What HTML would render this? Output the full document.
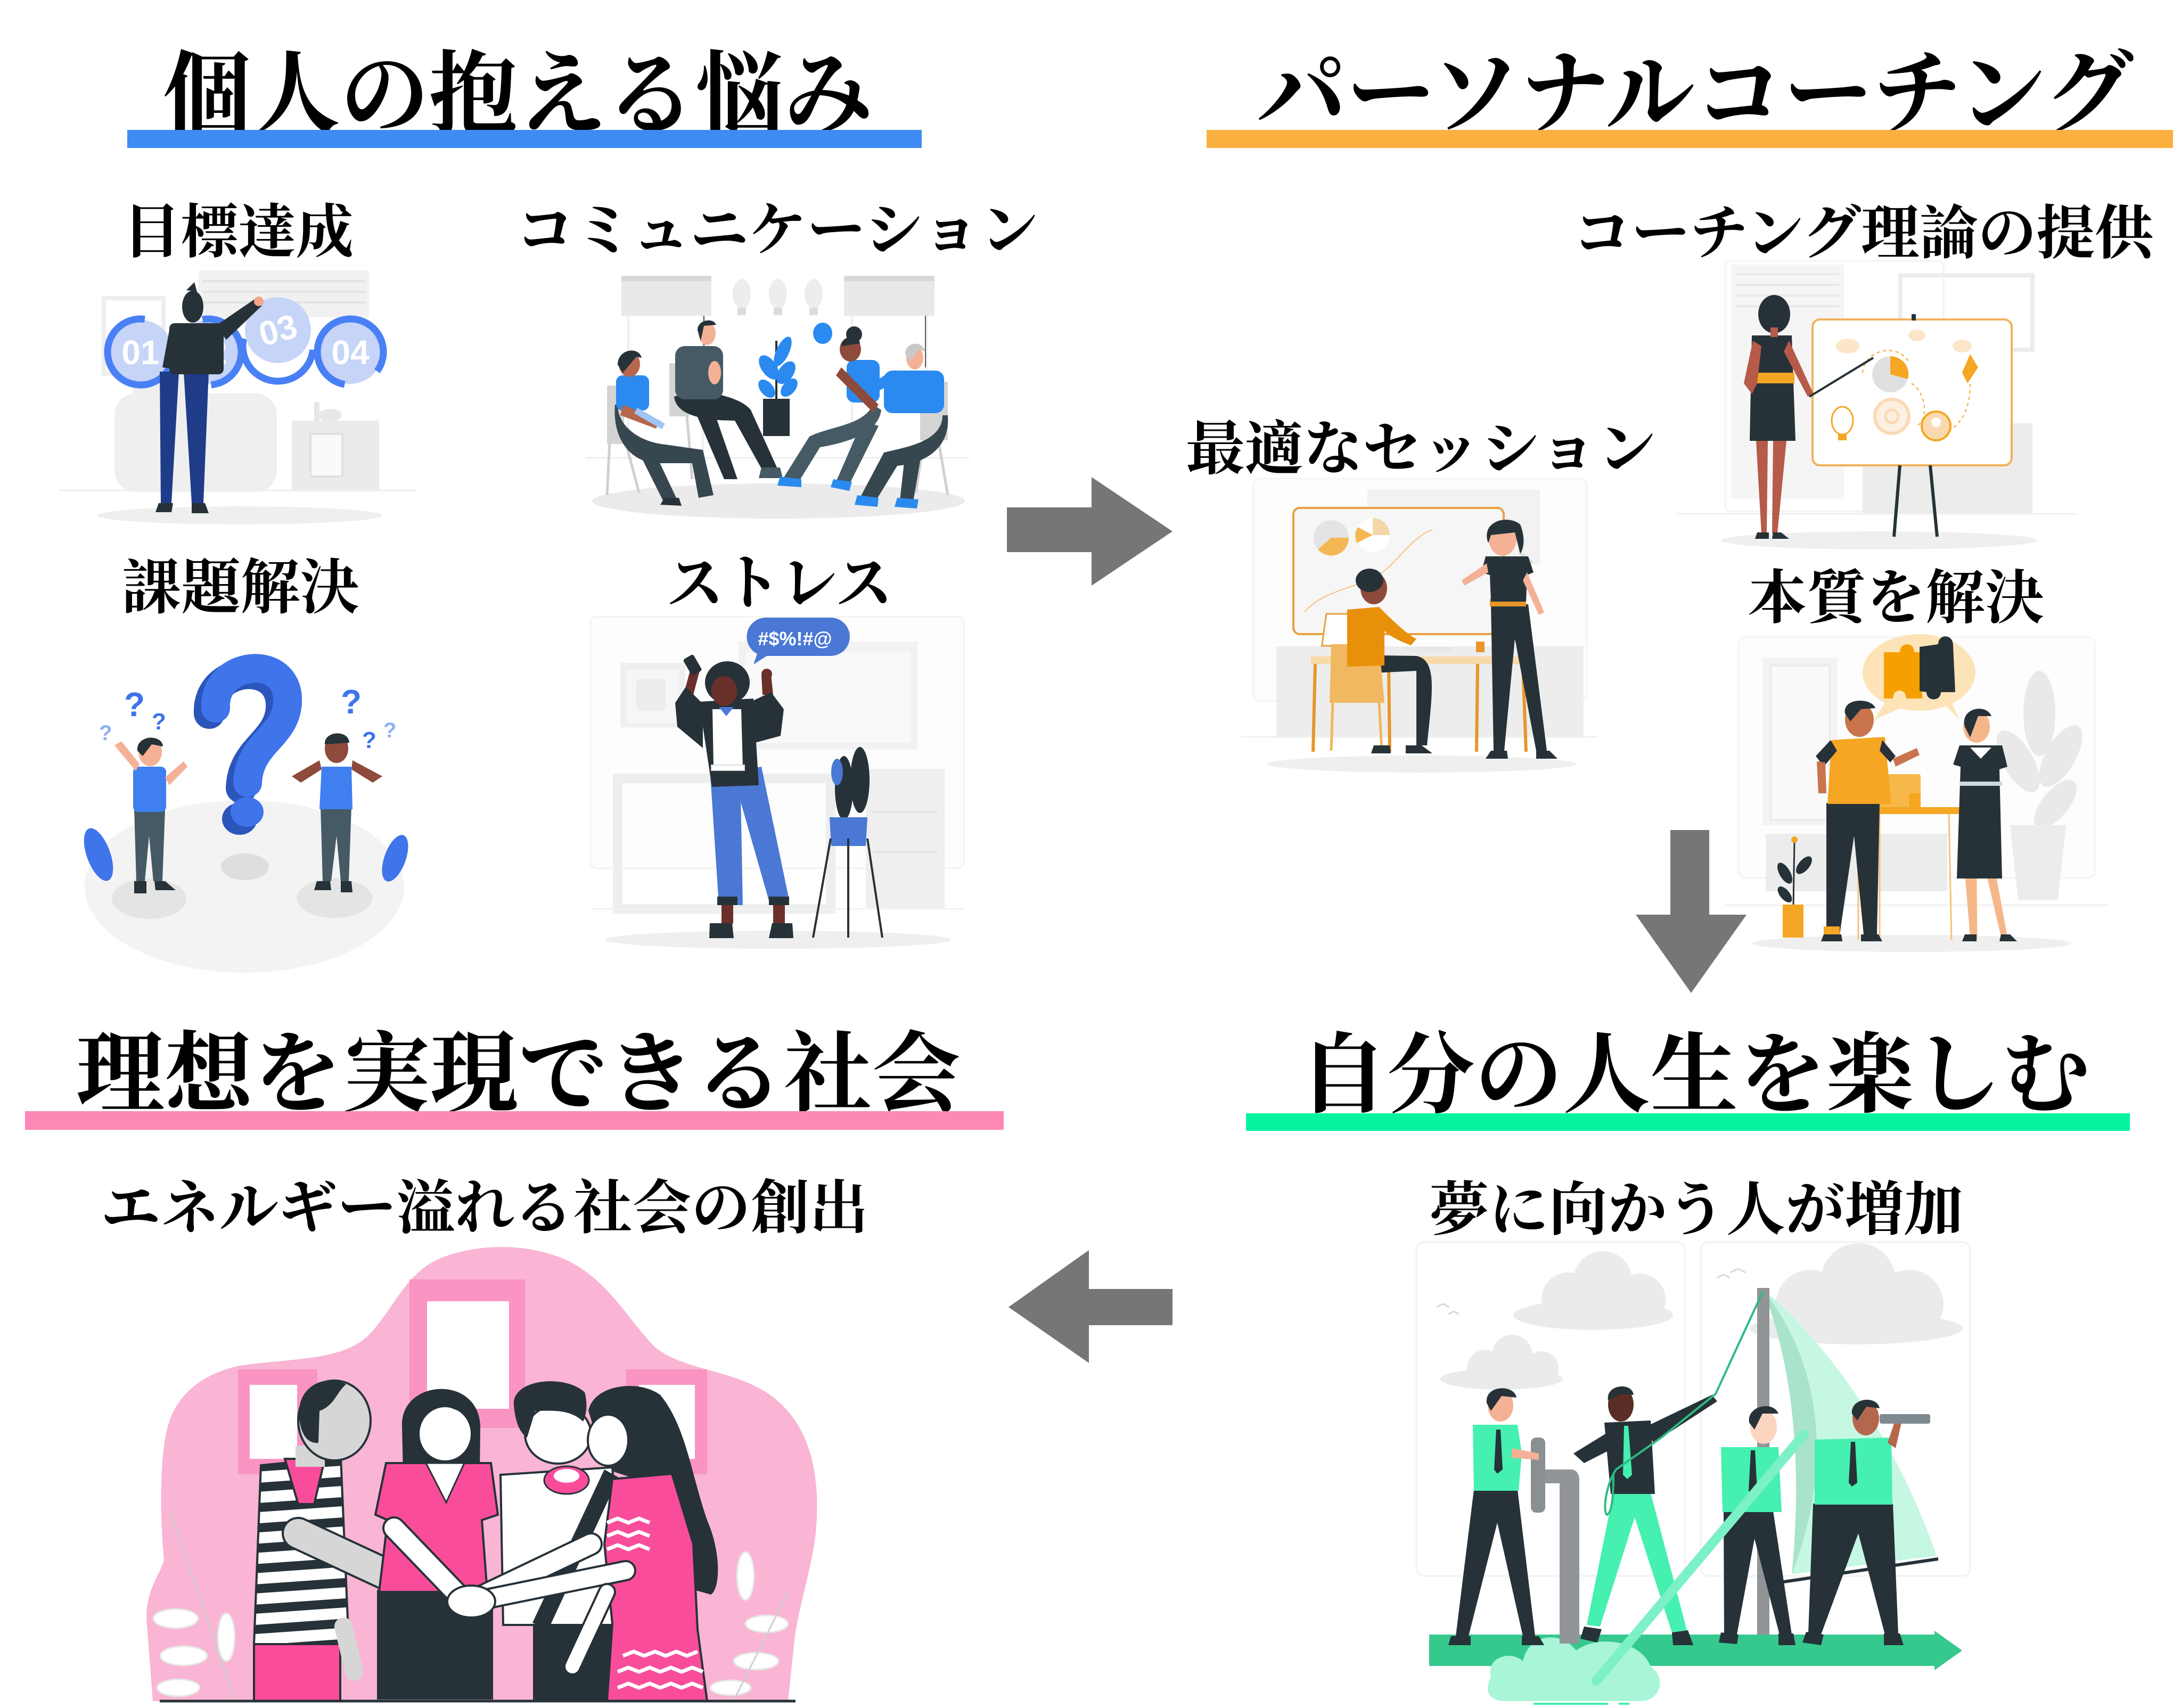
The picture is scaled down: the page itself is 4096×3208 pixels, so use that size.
<!DOCTYPE html>
<html><head><meta charset="utf-8">
<style>
html,body{margin:0;padding:0;background:#fff;}
svg{display:block;}
.t{font-family:"Liberation Serif","Noto Serif CJK SC","Noto Serif CJK JP",serif;font-weight:700;fill:#000;}
.s{font-family:"Liberation Sans",sans-serif;font-weight:700;}
</style></head><body>
<svg width="4096" height="3208" viewBox="0 0 4096 3208" xmlns="http://www.w3.org/2000/svg">
<defs>
<pattern id="stripe" width="40" height="38" patternUnits="userSpaceOnUse" patternTransform="rotate(-4)">
<rect width="40" height="38" fill="#fff"/><rect y="0" width="40" height="17" fill="#263238"/></pattern>
</defs>
<rect width="4096" height="3208" fill="#fff"/>

<!-- ===== TITLES & BARS ===== -->
<text class="t" x="306" y="238" font-size="172" textLength="1333" lengthAdjust="spacingAndGlyphs">個人の抱える悩み</text>
<rect x="239" y="244" width="1492" height="34" fill="#3e8cf3"/>
<text class="t" x="2361" y="236" font-size="172" textLength="1646" lengthAdjust="spacingAndGlyphs">パーソナルコーチング</text>
<rect x="2266" y="244" width="1815" height="34" fill="#fbb040"/>

<text class="t" x="231" y="474" font-size="110" textLength="433" lengthAdjust="spacingAndGlyphs">目標達成</text>
<text class="t" x="969" y="470" font-size="110" textLength="981" lengthAdjust="spacingAndGlyphs">コミュニケーション</text>
<text class="t" x="2954" y="476" font-size="110" textLength="1090" lengthAdjust="spacingAndGlyphs">コーチング理論の提供</text>
<text class="t" x="2227" y="881" font-size="110" textLength="883" lengthAdjust="spacingAndGlyphs">最適なセッション</text>
<text class="t" x="229" y="1142" font-size="112" textLength="446" lengthAdjust="spacingAndGlyphs">課題解決</text>
<text class="t" x="1252" y="1134" font-size="112" textLength="424" lengthAdjust="spacingAndGlyphs">ストレス</text>
<text class="t" x="3282" y="1161" font-size="110" textLength="557" lengthAdjust="spacingAndGlyphs">本質を解決</text>

<text class="t" x="143" y="2074" font-size="165" textLength="1661" lengthAdjust="spacingAndGlyphs">理想を実現できる社会</text>
<rect x="47" y="2087" width="1838" height="35" fill="#fb88b5"/>
<text class="t" x="2440" y="2076" font-size="165" textLength="1484" lengthAdjust="spacingAndGlyphs">自分の人生を楽しむ</text>
<rect x="2340" y="2091" width="1660" height="33" fill="#05f59e"/>

<text class="t" x="190" y="2307" font-size="110" textLength="1441" lengthAdjust="spacingAndGlyphs">エネルギー溢れる社会の創出</text>
<text class="t" x="2685" y="2310" font-size="110" textLength="1002" lengthAdjust="spacingAndGlyphs">夢に向かう人が増加</text>

<!-- ===== ARROWS ===== -->
<polygon points="1891,953 2050,953 2050,896 2202,998 2050,1100 2050,1037 1891,1037" fill="#767676"/>
<polygon points="3137,1559 3210,1559 3210,1718 3280,1718 3176,1865 3072,1718 3137,1718" fill="#767676"/>
<polygon points="2202,2421 2045,2421 2045,2348 1894,2455 2045,2560 2045,2489 2202,2489" fill="#767676"/>

<!-- ===== ILLUS 1: 目標達成 ===== -->
<g>
<rect x="373" y="508" width="320" height="88" fill="#f1f1f1"/>
<g stroke="#e3e3e3" stroke-width="4"><line x1="380" y1="528" x2="686" y2="528"/><line x1="380" y1="548" x2="686" y2="548"/><line x1="380" y1="568" x2="686" y2="568"/></g>
<rect x="195" y="560" width="112" height="142" fill="none" stroke="#eeeeee" stroke-width="8"/>
<rect x="250" y="700" width="120" height="80" rx="30" fill="#efefef"/>
<rect x="215" y="739" width="305" height="185" rx="40" fill="#efefef"/>
<rect x="548" y="790" width="164" height="133" fill="#ebebeb"/>
<rect x="583" y="815" width="60" height="80" fill="#fafafa" stroke="#e0e0e0" stroke-width="4"/>
<rect x="590" y="755" width="10" height="35" fill="#e6e6e6"/>
<ellipse cx="620" cy="780" rx="22" ry="12" fill="#e8e8e8"/>
<line x1="110" y1="921" x2="780" y2="921" stroke="#efefef" stroke-width="3"/>
<ellipse cx="450" cy="968" rx="268" ry="17" fill="#efefef"/>
<circle cx="264" cy="661" r="60" fill="#c6d4f8"/>
<circle cx="264" cy="661" r="62" fill="none" stroke="#4a80f5" stroke-width="13" stroke-dasharray="300 90"/>
<circle cx="391" cy="661" r="60" fill="#c6d4f8"/>
<circle cx="391" cy="661" r="62" fill="none" stroke="#4a80f5" stroke-width="13" stroke-dasharray="200 190" transform="rotate(-100 391 661)"/>
<circle cx="658" cy="661" r="60" fill="#c6d4f8"/>
<circle cx="658" cy="661" r="62" fill="none" stroke="#4a80f5" stroke-width="13" stroke-dasharray="320 70" transform="rotate(100 658 661)"/>
<circle cx="522" cy="650" r="66" fill="none" stroke="#4a80f5" stroke-width="13" stroke-dasharray="210 200" transform="rotate(10 522 650)"/>
<circle cx="522" cy="620" r="62" fill="#c6d4f8"/>
<text class="s" x="264" y="684" font-size="64" fill="#fff" text-anchor="middle">01</text>
<text class="s" x="391" y="684" font-size="64" fill="#fff" text-anchor="middle">02</text>
<text class="s" x="522" y="642" font-size="64" fill="#fff" text-anchor="middle" transform="rotate(-15 522 620)">03</text>
<text class="s" x="658" y="684" font-size="64" fill="#fff" text-anchor="middle">04</text>
<path d="M300 698 L336 698 L322 945 L302 945 Z" fill="#1f3c88"/>
<path d="M345 698 L392 698 L382 945 L360 945 Z" fill="#1f3c88"/>
<rect x="318" y="607" width="102" height="96" rx="10" fill="#263238"/>
<path d="M405 612 L478 562 L492 574 L425 638 Z" fill="#263238"/>
<circle cx="486" cy="566" r="9" fill="#f4a58a"/>
<path d="M318 620 L305 690 L318 692 L330 625 Z" fill="#263238"/>
<ellipse cx="362" cy="576" rx="20" ry="30" fill="#263238"/>
<path d="M350 545 L365 530 L370 548 Z" fill="#263238"/>
<path d="M298 945 L325 945 L322 962 L292 962 Z" fill="#263238"/>
<path d="M360 945 L385 945 L392 964 L360 964 Z" fill="#263238"/>
</g>

<!-- ===== ILLUS 2: コミュニケーション ===== -->
<g>
<rect x="1167" y="523" width="169" height="70" fill="#e9e9e9"/>
<rect x="1585" y="523" width="170" height="70" fill="#e9e9e9"/>
<rect x="1167" y="518" width="169" height="10" fill="#d8d8d8"/>
<rect x="1585" y="518" width="170" height="10" fill="#d8d8d8"/>
<g stroke="#f0f0f0" stroke-width="5"><line x1="1180" y1="593" x2="1180" y2="860"/><line x1="1320" y1="593" x2="1320" y2="860"/><line x1="1600" y1="593" x2="1600" y2="860"/><line x1="1740" y1="593" x2="1740" y2="860"/></g>
<g stroke="#555" stroke-width="2"><line x1="1322" y1="593" x2="1322" y2="650"/><line x1="1738" y1="593" x2="1738" y2="690"/></g>
<g fill="#ededed"><ellipse cx="1393" cy="552" rx="17" ry="28"/><ellipse cx="1461" cy="552" rx="17" ry="28"/><ellipse cx="1528" cy="552" rx="17" ry="28"/></g>
<g fill="#dcdcdc"><rect x="1385" y="578" width="16" height="14"/><rect x="1453" y="578" width="16" height="14"/><rect x="1520" y="578" width="16" height="14"/></g>
<line x1="1100" y1="860" x2="1820" y2="860" stroke="#eeeeee" stroke-width="3"/>
<ellipse cx="1462" cy="941" rx="350" ry="33" fill="#ebebeb"/>
<g fill="#d4d4d4"><rect x="1140" y="724" width="32" height="110"/><rect x="1257" y="682" width="37" height="100"/><rect x="1728" y="717" width="52" height="110"/></g>
<g stroke="#d0d0d0" stroke-width="5"><line x1="1145" y1="830" x2="1140" y2="930"/><line x1="1175" y1="830" x2="1200" y2="925"/><line x1="1762" y1="825" x2="1780" y2="930"/><line x1="1735" y1="825" x2="1720" y2="925"/><line x1="1290" y1="780" x2="1300" y2="900"/></g>
<rect x="1433" y="749" width="50" height="70" fill="#263238"/>
<line x1="1458" y1="640" x2="1458" y2="750" stroke="#263238" stroke-width="4"/>
<g fill="#2a8af0"><ellipse cx="1470" cy="660" rx="12" ry="30" transform="rotate(25 1470 660)"/><ellipse cx="1444" cy="690" rx="14" ry="26" transform="rotate(-35 1444 690)"/><ellipse cx="1476" cy="700" rx="14" ry="24" transform="rotate(35 1476 700)"/><ellipse cx="1440" cy="730" rx="12" ry="20" transform="rotate(-40 1440 730)"/><ellipse cx="1482" cy="728" rx="12" ry="20" transform="rotate(40 1482 728)"/></g>
<path d="M1160 760 C1160 800 1200 830 1250 835 L1320 845 L1340 930 L1312 935 L1300 870 L1230 870 C1180 865 1150 820 1155 760 Z" fill="#37474f"/>
<path d="M1230 850 L1270 935 L1245 940 L1205 860 Z" fill="#37474f"/>
<rect x="1157" y="705" width="62" height="66" rx="12" fill="#2a8af0"/>
<path d="M1170 760 L1240 790 L1232 805 L1165 780 Z" fill="#b5674d"/>
<rect x="1190" y="780" width="60" height="12" fill="#9ec6f5" transform="rotate(30 1220 786)"/>
<ellipse cx="1182" cy="684" rx="20" ry="24" fill="#b5674d"/>
<path d="M1160 685 C1160 655 1200 650 1205 672 L1195 670 L1170 700 Z" fill="#263238"/>
<path d="M1248 935 L1275 935 L1280 950 L1240 948 Z" fill="#263238"/>
<path d="M1266 745 C1270 780 1320 790 1380 790 L1430 880 L1460 880 L1410 770 C1390 745 1330 735 1300 735 Z" fill="#263238"/>
<path d="M1300 760 L1360 900 L1385 900 L1340 770 Z" fill="#263238"/>
<rect x="1268" y="650" width="90" height="100" rx="18" fill="#455a64"/>
<ellipse cx="1342" cy="700" rx="12" ry="22" fill="#f4b196"/>
<ellipse cx="1328" cy="626" rx="16" ry="22" fill="#f4b196"/>
<path d="M1310 620 C1310 600 1340 596 1345 610 L1322 612 L1316 640 Z" fill="#263238"/>
<path d="M1430 878 L1465 878 L1470 898 L1425 898 Z" fill="#455a64"/>
<path d="M1640 760 C1620 800 1560 800 1520 820 L1470 900 L1500 905 L1540 840 C1600 830 1650 810 1655 770 Z" fill="#455a64"/>
<path d="M1620 790 L1570 905 L1595 910 L1650 800 Z" fill="#455a64"/>
<rect x="1590" y="676" width="62" height="80" rx="14" fill="#2a8af0"/>
<path d="M1580 690 L1650 760 L1640 775 L1570 705 Z" fill="#8e4a3a"/>
<ellipse cx="1597" cy="656" rx="20" ry="23" fill="#8e4a3a"/>
<circle cx="1604" cy="628" r="15" fill="#263238"/>
<path d="M1580 650 C1580 630 1615 630 1615 645 L1595 648 Z" fill="#263238"/>
<ellipse cx="1545" cy="626" rx="18" ry="20" fill="#2a8af0"/>
<path d="M1465 895 L1505 900 L1505 915 L1460 912 Z" fill="#2a8af0"/>
<path d="M1565 900 L1600 905 L1595 922 L1560 915 Z" fill="#2a8af0"/>
<path d="M1770 780 C1770 830 1700 840 1660 850 L1615 935 L1645 940 L1685 875 C1740 870 1785 840 1780 780 Z" fill="#37474f"/>
<path d="M1700 850 L1690 940 L1715 942 L1730 855 Z" fill="#37474f"/>
<rect x="1660" y="696" width="113" height="80" rx="16" fill="#2a8af0"/>
<path d="M1668 700 L1625 730 L1632 744 L1680 718 Z" fill="#2a8af0"/>
<ellipse cx="1718" cy="672" rx="16" ry="22" fill="#f4b196"/>
<path d="M1700 665 C1700 640 1735 640 1737 660 L1725 656 L1710 680 Z" fill="#c9c9c9"/>
<path d="M1610 930 L1650 935 L1648 952 L1605 948 Z" fill="#2a8af0"/>
<path d="M1685 935 L1725 938 L1722 955 L1680 952 Z" fill="#2a8af0"/>
</g>

<!-- ===== ILLUS 3: 課題解決 ===== -->
<g>
<ellipse cx="459" cy="1665" rx="300" ry="162" fill="#f3f3f3"/>
<ellipse cx="460" cy="1628" rx="45" ry="25" fill="#dedede"/>
<ellipse cx="280" cy="1688" rx="70" ry="38" fill="#e4e4e4"/>
<ellipse cx="628" cy="1687" rx="71" ry="37" fill="#e4e4e4"/>
<g transform="translate(-12 10)">
<path d="M405 1330 C400 1240 545 1225 540 1320 C536 1385 468 1395 465 1470" fill="none" stroke="#2c55bb" stroke-width="58" stroke-linecap="round"/>
<ellipse cx="462" cy="1528" rx="33" ry="30" fill="#2c55bb"/>
</g>
<path d="M405 1330 C400 1240 545 1225 540 1320 C536 1385 468 1395 465 1470" fill="none" stroke="#3f74ea" stroke-width="54" stroke-linecap="round"/>
<ellipse cx="464" cy="1525" rx="31" ry="28" fill="#3f74ea"/>
<g class="s" fill="#3f74ea">
<text x="233" y="1345" font-size="64">?</text><text x="285" y="1370" font-size="44">?</text><text x="186" y="1390" font-size="40" fill="#8fb0f5">?</text>
<text x="640" y="1340" font-size="64">?</text><text x="680" y="1405" font-size="44">?</text><text x="720" y="1385" font-size="40" fill="#8fb0f5">?</text>
</g>
<path d="M252 1520 L310 1520 L305 1655 L288 1655 L280 1570 L272 1655 L256 1655 Z" fill="#455a64"/>
<rect x="250" y="1440" width="62" height="85" rx="10" fill="#3f7ff0"/>
<path d="M255 1448 L215 1400 L228 1392 L262 1435 Z" fill="#f4b196"/>
<path d="M310 1460 L345 1430 L352 1440 L318 1475 Z" fill="#f4b196"/>
<ellipse cx="282" cy="1412" rx="22" ry="27" fill="#f4b196"/>
<path d="M258 1410 C255 1380 305 1378 306 1402 L285 1398 L268 1420 Z" fill="#263238"/>
<path d="M252 1655 L275 1655 L275 1678 L252 1678 Z" fill="#263238"/><path d="M290 1655 L310 1655 L330 1672 L292 1672 Z" fill="#263238"/>
<path d="M602 1515 L660 1515 L655 1655 L640 1655 L632 1570 L622 1655 L606 1655 Z" fill="#455a64"/>
<path d="M604 1440 L660 1440 L662 1520 L600 1520 Z" fill="#3f7ff0"/>
<path d="M604 1445 L565 1470 L548 1458 L600 1428 Z" fill="#8e4a3a"/>
<path d="M660 1445 L700 1470 L718 1458 L662 1428 Z" fill="#8e4a3a"/>
<ellipse cx="632" cy="1406" rx="22" ry="27" fill="#8e4a3a"/>
<path d="M610 1398 C608 1372 655 1370 656 1395 Z" fill="#263238"/>
<path d="M595 1655 L620 1655 L622 1672 L590 1672 Z" fill="#263238"/><path d="M640 1655 L660 1655 L662 1676 L640 1676 Z" fill="#263238"/>
<g fill="#3f74ea"><ellipse cx="185" cy="1605" rx="22" ry="52" transform="rotate(-20 185 1605)"/><ellipse cx="742" cy="1612" rx="20" ry="46" transform="rotate(20 742 1612)"/></g>
</g>

<!-- ===== ILLUS 4: ストレス ===== -->
<g>
<rect x="1109" y="1158" width="701" height="473" rx="12" fill="#fdfdfd" stroke="#f3f3f3" stroke-width="3"/>
<rect x="1387" y="1205" width="336" height="203" fill="#f2f2f2"/>
<rect x="1400" y="1225" width="310" height="170" fill="#f9f9f9"/>
<rect x="1165" y="1245" width="122" height="121" fill="#efefef"/>
<rect x="1176" y="1258" width="100" height="100" fill="#f6f6f6"/>
<rect x="1195" y="1275" width="55" height="60" rx="8" fill="#ececec"/>
<rect x="1160" y="1462" width="400" height="245" fill="none" stroke="#eeeeee" stroke-width="18"/>
<rect x="1626" y="1444" width="148" height="263" fill="#efefef"/>
<g stroke="#e2e2e2" stroke-width="3"><line x1="1640" y1="1525" x2="1760" y2="1525"/><line x1="1640" y1="1600" x2="1760" y2="1600"/></g>
<line x1="1110" y1="1707" x2="1810" y2="1707" stroke="#f2f2f2" stroke-width="3"/>
<ellipse cx="1461" cy="1765" rx="325" ry="17" fill="#efefef"/>
<path d="M1440 1160 L1560 1160 A36 36 0 0 1 1560 1232 L1440 1232 L1415 1248 L1422 1228 A36 36 0 0 1 1440 1160 Z" fill="#4a78d4"/>
<text class="s" x="1493" y="1212" font-size="36" fill="#fff" text-anchor="middle">#$%!#@</text>
<path d="M1333 1440 L1390 1440 L1395 1700 L1350 1700 Z" fill="#4a78d4"/>
<path d="M1375 1450 L1430 1440 L1482 1690 L1445 1695 Z" fill="#4a78d4"/>
<rect x="1347" y="1684" width="38" height="16" fill="#263238"/>
<rect x="1444" y="1684" width="38" height="16" fill="#263238"/>
<rect x="1355" y="1700" width="22" height="35" fill="#6b2f2a"/>
<rect x="1452" y="1700" width="22" height="35" fill="#6b2f2a"/>
<path d="M1333 1734 L1375 1734 L1378 1762 L1332 1762 Z" fill="#263238"/>
<path d="M1450 1734 L1488 1734 L1490 1762 L1444 1762 L1450 1734 Z" fill="#263238"/>
<path d="M1285 1300 L1298 1252 L1315 1256 L1302 1305 Z" fill="#6b2f2a"/>
<path d="M1432 1305 L1430 1268 L1448 1266 L1452 1305 Z" fill="#6b2f2a"/>
<path d="M1313 1318 L1415 1312 L1425 1475 L1337 1478 Z" fill="#263238"/>
<path d="M1320 1322 L1288 1290 L1268 1320 L1272 1365 L1320 1405 Z" fill="#263238"/>
<path d="M1410 1318 L1448 1300 L1472 1332 L1466 1382 L1418 1395 Z" fill="#263238"/>
<path d="M1338 1332 L1392 1332 L1395 1440 L1340 1440 Z" fill="#fff"/>
<path d="M1350 1328 L1378 1328 L1364 1345 Z" fill="#4a78d4"/>
<rect x="1336" y="1437" width="62" height="10" fill="#fff" stroke="#ddd" stroke-width="2"/>
<rect x="1290" y="1232" width="22" height="35" rx="4" fill="#263238" transform="rotate(-30 1300 1250)"/>
<circle cx="1440" cy="1266" r="10" fill="#6b2f2a"/>
<ellipse cx="1366" cy="1282" rx="42" ry="40" fill="#263238"/>
<ellipse cx="1360" cy="1298" rx="24" ry="28" fill="#6b2f2a"/>
<g fill="#263238"><ellipse cx="1585" cy="1480" rx="17" ry="60"/><ellipse cx="1615" cy="1465" rx="18" ry="62"/></g>
<ellipse cx="1572" cy="1450" rx="11" ry="25" fill="#4a78d4"/>
<path d="M1558 1535 L1629 1535 L1626 1589 L1561 1589 Z" fill="#4a78d4"/>
<g stroke="#263238" stroke-width="4"><line x1="1560" y1="1575" x2="1527" y2="1761"/><line x1="1629" y1="1575" x2="1657" y2="1761"/><line x1="1593" y1="1575" x2="1593" y2="1761"/></g>
</g>

<!-- ===== ILLUS 5: コーチング理論の提供 ===== -->
<g>
<rect x="3240" y="490" width="410" height="470" rx="10" fill="none" stroke="#f5f5f5" stroke-width="4"/>
<rect x="3251" y="497" width="212" height="440" fill="#f5f5f5"/>
<g stroke="#e9e9e9" stroke-width="4"><line x1="3260" y1="515" x2="3455" y2="515"/><line x1="3260" y1="535" x2="3455" y2="535"/><line x1="3260" y1="555" x2="3455" y2="555"/><line x1="3260" y1="575" x2="3455" y2="575"/></g>
<rect x="3569" y="517" width="248" height="140" fill="none" stroke="#ececec" stroke-width="8"/>
<rect x="3498" y="795" width="319" height="170" fill="#ececec"/>
<line x1="3150" y1="965" x2="3900" y2="965" stroke="#f0f0f0" stroke-width="3"/>
<ellipse cx="3530" cy="1015" rx="297" ry="17" fill="#efefef"/>
<rect x="3404" y="600" width="374" height="274" rx="14" fill="#fff" stroke="#f2b25a" stroke-width="4"/>
<g fill="#fde5c8"><ellipse cx="3470" cy="650" rx="22" ry="14"/><ellipse cx="3600" cy="630" rx="16" ry="11"/><ellipse cx="3685" cy="650" rx="18" ry="12"/></g>
<path d="M3498 700 C3500 660 3560 640 3585 680" fill="none" stroke="#f5a623" stroke-width="2" stroke-dasharray="6 6"/>
<path d="M3590 720 C3620 740 3620 790 3600 800" fill="none" stroke="#f5a623" stroke-width="2" stroke-dasharray="6 6"/>
<path d="M3660 810 C3690 790 3700 760 3700 720" fill="none" stroke="#f5a623" stroke-width="2" stroke-dasharray="6 6"/>
<circle cx="3550" cy="703" r="34" fill="#e0e0e0"/>
<path d="M3550 703 L3550 669 A34 34 0 0 1 3583 712 Z" fill="#f5a623"/>
<circle cx="3553" cy="782" r="32" fill="#fdf0e2" stroke="#fbd9b5" stroke-width="6"/>
<circle cx="3553" cy="782" r="12" fill="none" stroke="#fbd9b5" stroke-width="5"/>
<ellipse cx="3460" cy="790" rx="20" ry="26" fill="none" stroke="#f5a623" stroke-width="3"/>
<rect x="3452" y="815" width="16" height="12" fill="#f5a623"/>
<circle cx="3636" cy="800" r="27" fill="#fbd9b0" stroke="#f5a623" stroke-width="4"/>
<circle cx="3636" cy="793" r="9" fill="#fff"/>
<path d="M3700 665 L3715 690 L3695 720 L3685 700 Z" fill="#f5a623"/>
<g stroke="#263238" stroke-width="6"><line x1="3568" y1="874" x2="3557" y2="1008"/><line x1="3625" y1="874" x2="3638" y2="1008"/></g>
<rect x="3590" y="590" width="8" height="12" fill="#263238"/>
<path d="M3298 828 L3320 828 L3318 1002 L3308 1002 Z" fill="#b65a4a"/>
<path d="M3330 828 L3355 828 L3338 1002 L3328 1002 Z" fill="#b65a4a"/>
<path d="M3290 630 L3365 630 L3372 828 L3286 828 Z" fill="#263238"/>
<rect x="3288" y="700" width="82" height="20" fill="#f5a623"/>
<path d="M3292 640 L3275 720 L3290 740 L3300 720 L3308 650 Z" fill="#b65a4a"/>
<path d="M3360 640 L3405 738 L3395 745 L3350 660 Z" fill="#b65a4a"/>
<line x1="3398" y1="745" x2="3518" y2="672" stroke="#263238" stroke-width="4"/>
<ellipse cx="3332" cy="590" rx="30" ry="36" fill="#263238"/>
<rect x="3325" y="615" width="14" height="18" fill="#b65a4a"/>
<path d="M3300 1000 L3322 1000 L3322 1012 L3296 1012 Z" fill="#263238"/>
<path d="M3330 1000 L3345 1000 L3360 1012 L3328 1012 Z" fill="#263238"/>
</g>

<!-- ===== ILLUS 6: 最適なセッション ===== -->
<g>
<rect x="2354" y="899" width="626" height="418" rx="12" fill="#fdfdfd" stroke="#f4f4f4" stroke-width="3"/>
<rect x="2568" y="919" width="324" height="141" fill="#f2f2f2"/>
<rect x="2397" y="1214" width="577" height="170" fill="#ededed"/>
<line x1="2330" y1="1384" x2="3000" y2="1384" stroke="#f0f0f0" stroke-width="3"/>
<ellipse cx="2670" cy="1435" rx="290" ry="16" fill="#efefef"/>
<rect x="2429" y="954" width="395" height="237" rx="12" fill="#f6f6f6" stroke="#e8a040" stroke-width="4"/>
<circle cx="2500" cy="1010" r="33" fill="#e4e4e4"/>
<path d="M2500 1010 L2533 1010 A33 33 0 0 1 2475 1032 Z" fill="#f5b754"/>
<circle cx="2578" cy="1005" r="32" fill="#fff"/>
<path d="M2578 1005 L2578 973 A32 32 0 0 1 2610 1005 Z" fill="#f3d7a8"/>
<path d="M2578 1005 L2548 1020 A32 32 0 0 1 2550 990 Z" fill="#f5b754"/>
<path d="M2450 1150 C2480 1110 2560 1100 2590 1080 C2630 1050 2650 1010 2690 995" fill="none" stroke="#f5c27a" stroke-width="2"/>
<path d="M2850 1030 L2880 1055 L2865 1070 Z" fill="#e0e0e0"/>
<rect x="2462" y="1233" width="406" height="14" fill="#f8d9a8"/>
<g stroke="#e8962a" stroke-width="6"><line x1="2470" y1="1247" x2="2466" y2="1412"/><line x1="2608" y1="1247" x2="2610" y2="1412"/><line x1="2775" y1="1247" x2="2773" y2="1412"/><line x1="2860" y1="1247" x2="2866" y2="1412"/></g>
<rect x="2653" y="1153" width="75" height="60" fill="#fff" stroke="#e8a040" stroke-width="3" transform="skewX(-8)"/>
<rect x="2635" y="1215" width="90" height="8" fill="#e8e8e8"/>
<rect x="2772" y="1205" width="16" height="20" fill="#e8962a"/>
<path d="M2530 1230 L2660 1232 C2700 1240 2690 1300 2680 1400 L2660 1400 L2660 1260 L2560 1265 Z" fill="#263238"/>
<path d="M2500 1210 L2590 1210 L2600 1320 L2497 1320 Z" fill="#f0b860"/>
<g stroke="#f0b860" stroke-width="5"><line x1="2503" y1="1320" x2="2500" y2="1410"/><line x1="2590" y1="1320" x2="2595" y2="1410"/></g>
<path d="M2530 1145 L2590 1140 C2610 1160 2640 1190 2660 1200 L2650 1212 C2630 1205 2610 1195 2600 1185 L2600 1250 L2530 1252 Z" fill="#e8900a"/>
<ellipse cx="2580" cy="1105" rx="25" ry="30" fill="#8e4a3a"/>
<ellipse cx="2572" cy="1090" rx="26" ry="22" fill="#263238"/>
<path d="M2640 1400 L2670 1400 L2690 1415 L2640 1415 Z" fill="#263238"/>
<path d="M2580 1400 L2610 1400 L2612 1415 L2575 1415 Z" fill="#263238"/>
<path d="M2800 1135 L2870 1135 L2905 1410 L2885 1410 L2845 1200 L2825 1410 L2805 1410 Z" fill="#263238"/>
<rect x="2798" y="1125" width="68" height="14" fill="#e8962a"/>
<path d="M2790 1045 L2870 1045 L2880 1075 L2868 1080 L2866 1130 L2800 1130 L2798 1080 L2782 1075 Z" fill="#263238"/>
<path d="M2795 1075 L2750 1100 L2745 1090 L2792 1058 Z" fill="#f4b196"/>
<path d="M2868 1075 L2900 1150 L2890 1155 L2860 1090 Z" fill="#f4b196"/>
<ellipse cx="2822" cy="1012" rx="26" ry="32" fill="#f4b196"/>
<path d="M2795 1020 C2780 980 2830 965 2855 985 C2865 1010 2862 1030 2855 1040 L2845 1000 L2800 1005 Z" fill="#263238"/>
<path d="M2800 1410 L2830 1410 L2832 1425 L2790 1425 Z" fill="#263238"/>
<path d="M2885 1410 L2910 1410 L2925 1425 L2885 1425 Z" fill="#263238"/>
</g>

<!-- ===== ILLUS 7: 本質を解決 ===== -->
<g>
<rect x="3265" y="1197" width="669" height="452" rx="12" fill="#fdfdfd" stroke="#f4f4f4" stroke-width="3"/>
<rect x="3310" y="1235" width="141" height="315" fill="#f3f3f3"/>
<rect x="3326" y="1250" width="110" height="290" fill="#fafafa" stroke="#ececec" stroke-width="4"/>
<rect x="3316" y="1566" width="341" height="108" fill="#ececec"/>
<g fill="#e9e9e9"><ellipse cx="3830" cy="1340" rx="30" ry="80"/><ellipse cx="3870" cy="1420" rx="28" ry="65" transform="rotate(30 3870 1420)"/><ellipse cx="3790" cy="1430" rx="28" ry="65" transform="rotate(-30 3790 1430)"/><ellipse cx="3860" cy="1510" rx="25" ry="55" transform="rotate(40 3860 1510)"/></g>
<path d="M3775 1550 L3880 1550 L3865 1690 L3790 1690 Z" fill="#ececec"/>
<line x1="3240" y1="1700" x2="3960" y2="1700" stroke="#f0f0f0" stroke-width="3"/>
<ellipse cx="3590" cy="1772" rx="300" ry="16" fill="#efefef"/>
<ellipse cx="3604" cy="1263" rx="106" ry="72" fill="#fde4b8"/>
<path d="M3540 1320 L3520 1352 L3570 1330 Z" fill="#fde4b8"/>
<path d="M3650 1322 L3680 1352 L3665 1318 Z" fill="#fde4b8"/>
<path d="M3538 1225 L3568 1225 C3568 1205 3595 1205 3595 1225 L3610 1225 L3610 1312 L3580 1312 C3580 1292 3555 1292 3555 1312 L3538 1312 Z" fill="#f5a000"/>
<path d="M3605 1215 L3640 1210 C3640 1190 3668 1190 3668 1212 L3672 1300 L3645 1300 C3645 1318 3618 1318 3618 1300 L3605 1298 Z" fill="#263238"/>
<rect x="3475" y="1516" width="247" height="13" fill="#f5a623"/>
<g stroke="#f5c27a" stroke-width="3"><line x1="3490" y1="1529" x2="3490" y2="1765"/><line x1="3530" y1="1529" x2="3530" y2="1765"/><line x1="3660" y1="1529" x2="3665" y2="1765"/><line x1="3710" y1="1529" x2="3712" y2="1765"/></g>
<rect x="3517" y="1454" width="90" height="62" rx="4" fill="#f7b84a"/>
<rect x="3585" y="1490" width="22" height="26" fill="#f5a623"/>
<path d="M3430 1508 L3530 1508 L3525 1755 L3500 1755 L3482 1570 L3455 1755 L3430 1755 Z" fill="#263238"/>
<path d="M3440 1390 L3540 1384 L3552 1510 L3432 1510 Z" fill="#f5a623"/>
<path d="M3438 1390 L3410 1420 L3425 1440 L3450 1410 Z" fill="#263238"/>
<path d="M3535 1390 L3560 1420 L3550 1432 L3530 1410 Z" fill="#263238"/>
<path d="M3555 1425 L3600 1405 L3605 1418 L3560 1440 Z" fill="#c9744c"/>
<path d="M3412 1430 L3415 1490 L3430 1490 L3428 1432 Z" fill="#c9744c"/>
<ellipse cx="3492" cy="1352" rx="27" ry="32" fill="#c9744c"/>
<path d="M3465 1340 C3460 1310 3515 1310 3522 1330 L3495 1332 L3475 1355 Z" fill="#263238"/>
<rect x="3425" y="1740" width="30" height="22" fill="#f5a623"/>
<path d="M3425 1755 L3458 1755 L3460 1768 L3420 1768 Z" fill="#263238"/>
<path d="M3495 1755 L3528 1755 L3535 1768 L3495 1768 Z" fill="#263238"/>
<path d="M3690 1640 L3710 1640 L3712 1760 L3700 1760 Z" fill="#f5b78a"/>
<path d="M3730 1640 L3748 1640 L3770 1760 L3758 1760 Z" fill="#f5b78a"/>
<path d="M3680 1400 L3760 1400 L3770 1440 L3755 1445 L3760 1650 L3675 1650 L3682 1440 L3668 1436 Z" fill="#263238"/>
<rect x="3680" y="1468" width="80" height="8" fill="#cfd8dc"/>
<path d="M3700 1404 L3740 1404 L3720 1425 Z" fill="#fff"/>
<ellipse cx="3712" cy="1365" rx="25" ry="30" fill="#f5b78a"/>
<path d="M3690 1365 C3680 1330 3730 1320 3740 1345 L3715 1345 L3700 1385 Z" fill="#263238"/>
<path d="M3690 1755 L3712 1755 L3712 1768 L3685 1768 Z" fill="#263238"/>
<path d="M3758 1755 L3775 1755 L3788 1768 L3755 1768 Z" fill="#263238"/>
<line x1="3368" y1="1700" x2="3370" y2="1580" stroke="#263238" stroke-width="3"/>
<circle cx="3370" cy="1577" r="6" fill="#f5a623"/>
<g fill="#263238"><ellipse cx="3352" cy="1640" rx="10" ry="22" transform="rotate(-30 3352 1640)"/><ellipse cx="3388" cy="1625" rx="10" ry="20" transform="rotate(40 3388 1625)"/><ellipse cx="3352" cy="1680" rx="9" ry="18" transform="rotate(-40 3352 1680)"/></g>
<rect x="3348" y="1699" width="39" height="62" fill="#f5a623"/>
</g>

<!-- ===== ILLUS 8: pink society ===== -->
<g>
<path d="M287 3195 L276 3053 C270 2990 300 2960 308 2930 C300 2850 300 2730 315 2680 C330 2620 380 2580 450 2565 C560 2550 640 2555 690 2510 C740 2460 760 2390 830 2362 C900 2335 990 2335 1060 2365 C1140 2400 1180 2480 1230 2530 C1290 2580 1400 2570 1470 2640 C1530 2700 1540 2790 1532 2880 C1522 2960 1495 3030 1490 3100 L1480 3195 Z" fill="#f9b5d3"/>
<rect x="769" y="2403" width="217" height="279" fill="#f994c3"/>
<rect x="802" y="2444" width="154" height="202" fill="#fff"/>
<rect x="447" y="2572" width="149" height="197" fill="#f994c3"/>
<rect x="469" y="2601" width="89" height="139" fill="#fff"/>
<rect x="1176" y="2572" width="152" height="197" fill="#f994c3"/>
<rect x="1200" y="2601" width="105" height="139" fill="#fff"/>
<g fill="#fff" stroke="#e6e6e6" stroke-width="3">
<ellipse cx="330" cy="3040" rx="42" ry="18"/><ellipse cx="345" cy="3110" rx="44" ry="18"/><ellipse cx="335" cy="3170" rx="40" ry="16"/><ellipse cx="425" cy="3075" rx="16" ry="45"/>
<ellipse cx="1400" cy="2960" rx="16" ry="45"/><ellipse cx="1440" cy="3050" rx="40" ry="16"/><ellipse cx="1420" cy="3120" rx="42" ry="16"/><ellipse cx="1372" cy="3170" rx="38" ry="14"/>
</g>
<g stroke="#cfcfcf" stroke-width="3" fill="none"><line x1="320" y1="2840" x2="440" y2="3190"/><line x1="1480" y1="2990" x2="1380" y2="3190"/></g>
<path d="M1105 2650 C1115 2600 1200 2590 1240 2620 C1290 2680 1300 2780 1330 2860 C1355 2920 1352 2985 1335 2995 L1300 2985 L1262 2800 L1140 2760 Z" fill="#263238"/>
<path d="M755 2680 C750 2590 900 2580 902 2680 L900 2850 L760 2900 Z" fill="#263238"/>
<!-- person 1 -->
<path d="M477 3085 L639 3085 L639 3195 L477 3195 Z" fill="#f94d9b" stroke="#263238" stroke-width="4"/>
<path d="M490 2752 L640 2738 L655 3088 L477 3088 Z" fill="url(#stripe)" stroke="#263238" stroke-width="4"/>
<path d="M535 2740 L610 2740 L590 2825 L560 2825 Z" fill="#f94d9b" stroke="#263238" stroke-width="4"/>
<rect x="555" y="2715" width="55" height="40" fill="#d6d6d6"/>
<path d="M560 2880 L850 3015" stroke="#263238" stroke-width="62" stroke-linecap="round"/>
<path d="M560 2880 L850 3015" stroke="#d6d6d6" stroke-width="54" stroke-linecap="round"/>
<path d="M645 3055 L665 3140" stroke="#d6d6d6" stroke-width="34" stroke-linecap="round"/>
<ellipse cx="628" cy="2668" rx="68" ry="75" fill="#d6d6d6" stroke="#263238" stroke-width="4"/>
<path d="M562 2665 C555 2600 615 2580 650 2600 C632 2615 628 2640 600 2650 L598 2710 C575 2712 565 2690 562 2665 Z" fill="#263238"/>
<!-- person 2 -->
<ellipse cx="836" cy="2693" rx="50" ry="52" fill="#fff" stroke="#263238" stroke-width="4"/>
<path d="M790 2655 C810 2615 870 2610 888 2660 L835 2640 Z" fill="#263238"/>
<rect x="708" y="2986" width="218" height="206" fill="#263238"/>
<path d="M725 2748 L922 2748 L935 2845 L905 2855 L915 2990 L712 2990 L728 2855 L705 2845 Z" fill="#f94d9b" stroke="#263238" stroke-width="4"/>
<path d="M800 2748 L872 2748 L838 2822 Z" fill="#fff" stroke="#263238" stroke-width="3"/>
<path d="M740 2870 L865 3000" stroke="#263238" stroke-width="44" stroke-linecap="round"/>
<path d="M740 2870 L865 3000" stroke="#fff" stroke-width="36" stroke-linecap="round"/>
<!-- person 3 -->
<rect x="1001" y="3048" width="164" height="147" fill="#263238"/>
<path d="M940 2770 L1150 2756 L1170 3052 L945 3052 Z" fill="#fff" stroke="#263238" stroke-width="4"/>
<path d="M1135 2760 L1162 2775 L1030 3060 L1000 3048 Z" fill="#263238"/>
<ellipse cx="1064" cy="2780" rx="42" ry="26" fill="#f94d9b" stroke="#263238" stroke-width="3"/>
<ellipse cx="1064" cy="2772" rx="24" ry="13" fill="#fff"/>
<ellipse cx="1048" cy="2694" rx="62" ry="55" fill="#fff" stroke="#263238" stroke-width="4"/>
<path d="M965 2640 C960 2590 1060 2580 1098 2615 C1105 2640 1100 2660 1095 2670 C1070 2645 1030 2650 1005 2650 L990 2700 C975 2690 968 2670 965 2640 Z" fill="#263238"/>
<path d="M1110 2900 L890 3005" stroke="#263238" stroke-width="44" stroke-linecap="round"/>
<path d="M1110 2900 L890 3005" stroke="#fff" stroke-width="36" stroke-linecap="round"/>
<!-- person 4 -->
<path d="M1150 2778 L1262 2768 L1302 2900 L1310 3060 L1328 3195 L1140 3195 L1150 3050 L1135 2900 Z" fill="#f94d9b" stroke="#263238" stroke-width="4"/>
<g stroke="#fff" stroke-width="7" fill="none">
<path d="M1140 2860 l20 -8 l20 8 l20 -8 l20 8"/><path d="M1140 2885 l20 -8 l20 8 l20 -8 l20 8"/><path d="M1140 2910 l20 -8 l20 8 l20 -8 l20 8"/>
<path d="M1170 3110 l20 -8 l20 8 l20 -8 l20 8 l20 -8 l20 8 l20 -8"/><path d="M1160 3140 l20 -8 l20 8 l20 -8 l20 8 l20 -8 l20 8 l20 -8 l20 8"/><path d="M1160 3170 l20 -8 l20 8 l20 -8 l20 8 l20 -8 l20 8 l20 -8 l20 8"/>
</g>
<path d="M1175 2950 L905 3005" stroke="#263238" stroke-width="40" stroke-linecap="round"/>
<path d="M1175 2950 L905 3005" stroke="#fff" stroke-width="32" stroke-linecap="round"/>
<path d="M1140 2990 L1075 3130" stroke="#263238" stroke-width="34" stroke-linecap="round"/>
<path d="M1140 2990 L1075 3130" stroke="#fff" stroke-width="26" stroke-linecap="round"/>
<ellipse cx="1142" cy="2705" rx="38" ry="48" fill="#fff" stroke="#263238" stroke-width="4"/>
<path d="M1115 2660 C1140 2610 1220 2620 1230 2670 L1190 2670 L1160 2655 Z" fill="#263238"/>
<ellipse cx="885" cy="3008" rx="45" ry="30" fill="#fff" stroke="#263238" stroke-width="4"/>
<line x1="300" y1="3195" x2="1494" y2="3195" stroke="#263238" stroke-width="5"/>
</g>

<!-- ===== ILLUS 9: green sailing ===== -->
<g>
<rect x="2660" y="2333" width="504" height="627" rx="14" fill="none" stroke="#f2f2f2" stroke-width="3"/>
<rect x="3194" y="2333" width="506" height="627" rx="14" fill="none" stroke="#f2f2f2" stroke-width="3"/>
<g fill="#ebebeb">
<ellipse cx="2992" cy="2470" rx="150" ry="28"/><circle cx="2945" cy="2440" r="50"/><circle cx="3010" cy="2405" r="55"/><circle cx="3080" cy="2440" r="48"/>
<ellipse cx="2820" cy="2590" rx="115" ry="20"/><circle cx="2790" cy="2570" r="35"/><circle cx="2840" cy="2545" r="38"/><circle cx="2895" cy="2570" r="32"/>
<ellipse cx="3486" cy="2495" rx="200" ry="30"/><circle cx="3400" cy="2450" r="65"/><circle cx="3490" cy="2405" r="70"/><circle cx="3585" cy="2450" r="65"/>
</g>
<g stroke="#d8d8d8" stroke-width="3" fill="none"><path d="M2698 2455 l12 -6 l12 6"/><path d="M2720 2468 l10 -5 l10 5"/><path d="M3225 2400 l12 -6 l12 6"/><path d="M3250 2390 l14 -7 l14 7"/></g>
<path d="M3311 2422 C3430 2520 3560 2700 3637 2922 L3365 2957 C3400 2800 3420 2600 3311 2422 Z" fill="#c6f7e3"/>
<path d="M3311 2422 C3420 2560 3445 2750 3365 2957 C3380 2800 3380 2600 3311 2422 Z" fill="#a9e3cb"/>
<rect x="3300" y="2419" width="23" height="668" fill="#919598"/>
<line x1="3323" y1="2975" x2="3640" y2="2928" stroke="#263238" stroke-width="6"/>
<path d="M2684 3070 L3633 3070 L3633 3063 L3685 3100 L3633 3137 L3633 3129 L2684 3129 Z" fill="#35c98e"/>
<path d="M2800 3150 C2790 3110 2840 3100 2860 3120 C2870 3070 2930 3060 2960 3100 C3000 3070 3080 3080 3100 3130 C3130 3150 3120 3195 3080 3195 L2820 3195 C2790 3190 2790 3170 2800 3150 Z" fill="#a8f5d8"/>
<path d="M2891 2760 L2950 2760 C2962 2760 2966 2770 2966 2780 L2966 3087 L2929 3087 L2929 2786 L2891 2786 Z" fill="#919598"/>
<rect x="2875" y="2700" width="27" height="141" rx="10" fill="#8a8f92"/>
<path d="M2768 2798 L2850 2798 L2883 3073 L2860 3073 L2812 2860 L2758 3073 L2734 3073 Z" fill="#263238"/>
<path d="M2766 2676 L2850 2676 L2858 2730 L2852 2800 L2768 2800 Z" fill="#45f0b0"/>
<path d="M2810 2685 L2818 2685 L2822 2760 L2812 2768 L2806 2760 Z" fill="#263238"/>
<path d="M2840 2720 L2890 2730 L2890 2742 L2838 2738 Z" fill="#f4b196"/>
<ellipse cx="2818" cy="2640" rx="24" ry="30" fill="#f4b196"/>
<path d="M2792 2635 C2788 2600 2845 2600 2848 2625 L2820 2622 L2800 2650 Z" fill="#263238"/>
<path d="M2725 3073 L2762 3073 L2762 3090 L2720 3090 Z" fill="#263238"/><path d="M2858 3073 L2890 3073 L2900 3090 L2858 3090 Z" fill="#263238"/>
<path d="M3030 2804 L3100 2804 L3168 3062 L3140 3066 L3070 2850 L3005 3055 L2980 3052 Z" fill="#45f0b0"/>
<path d="M3013 2672 L3100 2668 L3108 2806 L3025 2806 Z" fill="#263238"/>
<path d="M3090 2680 L3215 2620 L3225 2632 L3105 2710 Z" fill="#263238"/>
<path d="M3020 2690 L2955 2730 L2975 2748 L3030 2720 Z" fill="#263238"/>
<path d="M3050 2678 L3058 2678 L3065 2770 L3056 2778 L3048 2770 Z" fill="#45f0b0"/>
<ellipse cx="3044" cy="2638" rx="24" ry="32" fill="#5a2e24"/>
<path d="M3020 2630 C3015 2600 3065 2595 3068 2620 L3045 2618 Z" fill="#263238"/>
<path d="M2975 3055 L3008 3060 L3000 3085 L2968 3078 Z" fill="#263238"/><path d="M3140 3066 L3170 3062 L3180 3090 L3142 3090 Z" fill="#263238"/>
<path d="M3311 2425 L3222 2618 L3120 2700 L3035 2760 C3015 2790 3010 2840 3018 2845 C3030 2840 3030 2790 3030 2770" fill="none" stroke="#2fba82" stroke-width="4"/>
<path d="M3237 2838 L3330 2838 L3365 3070 L3342 3070 L3295 2890 L3262 3070 L3238 3070 Z" fill="#263238"/>
<path d="M3232 2718 L3340 2718 L3346 2840 L3235 2840 Z" fill="#45f0b0"/>
<path d="M3288 2724 L3296 2724 L3300 2800 L3290 2808 L3284 2800 Z" fill="#263238"/>
<ellipse cx="3312" cy="2680" rx="25" ry="32" fill="#fcd5c0"/>
<path d="M3285 2672 C3280 2640 3330 2630 3340 2655 L3310 2655 L3295 2685 Z" fill="#263238"/>
<path d="M3232 3066 L3265 3070 L3262 3088 L3228 3085 Z" fill="#263238"/><path d="M3340 3068 L3368 3068 L3372 3090 L3340 3090 Z" fill="#263238"/>
<path d="M3405 2824 L3555 2824 L3565 3070 L3540 3070 L3490 2880 L3420 3070 L3396 3068 Z" fill="#263238"/>
<path d="M3408 2704 L3552 2700 L3554 2826 L3408 2826 Z" fill="#45f0b0"/>
<path d="M3476 2708 L3484 2708 L3488 2785 L3478 2792 L3472 2785 Z" fill="#263238"/>
<path d="M3545 2710 L3560 2665 L3572 2668 L3560 2720 Z" fill="#b5674d"/>
<ellipse cx="3504" cy="2664" rx="25" ry="32" fill="#b5674d"/>
<path d="M3478 2655 C3475 2625 3525 2620 3530 2645 L3505 2642 L3488 2668 Z" fill="#263238"/>
<rect x="3530" y="2656" width="95" height="18" rx="4" fill="#7f8a8f"/>
<path d="M3392 3065 L3425 3070 L3420 3090 L3385 3085 Z" fill="#263238"/><path d="M3538 3068 L3568 3068 L3575 3090 L3538 3090 Z" fill="#263238"/>
<line x1="3388" y1="2694" x2="2998" y2="3157" stroke="#7cf0c6" stroke-width="18" stroke-linecap="round"/>
<g stroke="#45f0b0" stroke-width="4"><line x1="2880" y1="3200" x2="3020" y2="3200"/><line x1="3040" y1="3200" x2="3060" y2="3200"/></g>
</g>
</svg>
</body></html>
